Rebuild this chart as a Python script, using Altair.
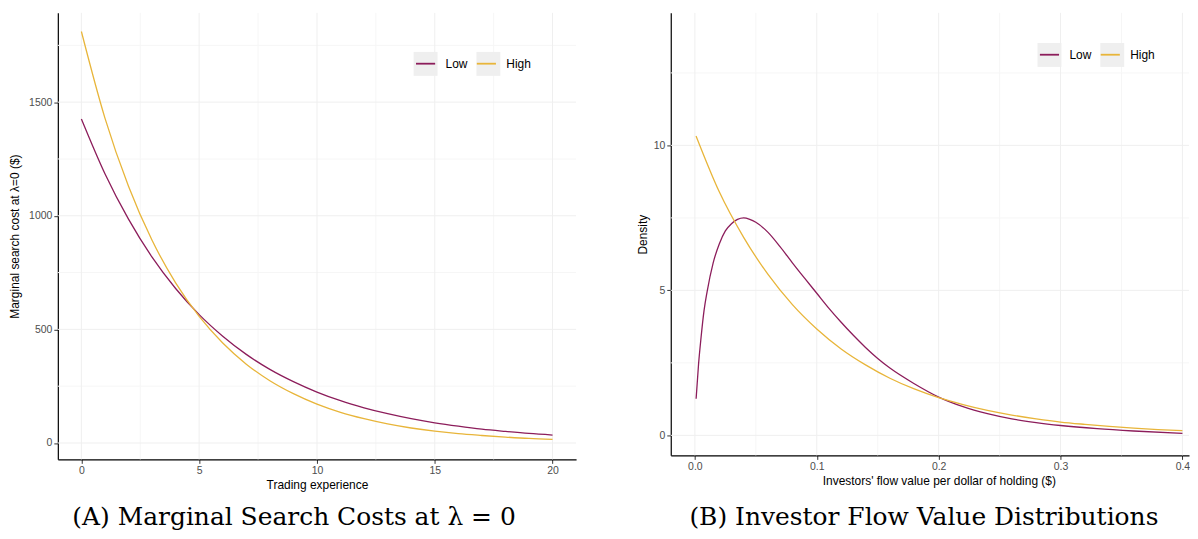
import altair as alt
import pandas as pd

# ---------------- data ----------------
groups = ["Low", "High"]

experience = list(range(21))
cost_low = [1426, 1185, 985, 818, 680, 565, 470, 390, 324, 270, 224,
            186, 155, 129, 107, 89, 74, 61, 51, 42, 35]
cost_high = [1811, 1430, 1130, 892, 705, 557, 440, 347, 274, 217, 171,
             135, 107, 84, 66, 52, 41, 33, 26, 20, 16]

flow_low_x = [0.001, 0.003, 0.005, 0.0075, 0.01, 0.015, 0.02, 0.025, 0.03, 0.035,
              0.04, 0.045, 0.05, 0.06, 0.07, 0.08, 0.09, 0.10, 0.11, 0.12,
              0.13, 0.14, 0.15, 0.16, 0.18, 0.20, 0.22, 0.24, 0.26, 0.28,
              0.30, 0.33, 0.36, 0.40]
density_low = [1.26, 2.45, 3.35, 4.30, 4.95, 5.95, 6.60, 7.05, 7.30, 7.45,
               7.50, 7.45, 7.35, 7.00, 6.50, 5.95, 5.42, 4.90, 4.38, 3.90,
               3.45, 3.03, 2.65, 2.32, 1.78, 1.32, 0.99, 0.75, 0.57, 0.44,
               0.34, 0.23, 0.15, 0.07]

flow_high_x = [0.001, 0.02, 0.04, 0.06, 0.08, 0.10, 0.12, 0.14, 0.16, 0.18,
               0.20, 0.22, 0.24, 0.26, 0.28, 0.30, 0.32, 0.34, 0.36, 0.38, 0.40]
density_high = [10.32, 8.40, 6.83, 5.55, 4.51, 3.67, 2.98, 2.43, 1.97, 1.60,
                1.30, 1.06, 0.86, 0.70, 0.57, 0.46, 0.38, 0.31, 0.25, 0.20, 0.16]

left_x_major = [0, 5, 10, 15, 20]
left_x_minor = [2.5, 7.5, 12.5, 17.5]
left_y_major = [0, 500, 1000, 1500]
left_y_minor = [250, 750, 1250, 1750]

right_x_major = [0.0, 0.1, 0.2, 0.3, 0.4]
right_x_minor = [0.05, 0.15, 0.25, 0.35]
right_y_major = [0, 5, 10]
right_y_minor = [2.5, 7.5, 12.5]

PURPLE = "#8C1D5B"
GOLD = "#E8B53A"
SANS = "Liberation Sans"
SERIF = "DejaVu Serif"

df_cost = pd.DataFrame({
    "x": experience * 2,
    "y": cost_low + cost_high,
    "group": ["Low"] * len(cost_low) + ["High"] * len(cost_high),
})
df_flow = pd.DataFrame({
    "x": flow_low_x + flow_high_x,
    "y": density_low + density_high,
    "group": ["Low"] * len(flow_low_x) + ["High"] * len(flow_high_x),
})


def panel(df, xdomain, ydomain, xticks, yticks, xminor, yminor, xfmt, yfmt,
          width, height, xtitle, ytitle, ytitle_pad, xtitle_x, lx, ly,
          caption, cap_dx, cap_offset):
    xscale = alt.Scale(domain=xdomain, nice=False, zero=False)
    yscale = alt.Scale(domain=ydomain, nice=False, zero=False)
    common = dict(grid=False, domainColor="black", domainWidth=1.2,
                  tickColor="#333333", tickSize=4, tickWidth=1,
                  labelColor="#4D4D4D", labelFontSize=10.5, labelFont=SANS,
                  titleFont=SANS, titleFontSize=12, titleFontWeight="normal",
                  titleColor="black", labelFlush=False)
    xextra = {} if xtitle_x is None else {"titleX": xtitle_x}
    xaxis = alt.Axis(values=xticks, title=xtitle, format=xfmt, labelPadding=2,
                     titlePadding=4, **xextra, **common)
    yaxis = alt.Axis(values=yticks, title=ytitle, format=yfmt, labelPadding=2,
                     titlePadding=ytitle_pad, **common)

    def X(f):
        return alt.X(f, scale=xscale, axis=xaxis)

    def Y(f):
        return alt.Y(f, scale=yscale, axis=yaxis)

    vmaj = alt.Chart(pd.DataFrame({"v": xticks})).mark_rule(
        color="#EFEFEF", strokeWidth=1).encode(x=X("v:Q"))
    vmin = alt.Chart(pd.DataFrame({"v": xminor})).mark_rule(
        color="#F6F6F6", strokeWidth=1).encode(x=X("v:Q"))
    hmaj = alt.Chart(pd.DataFrame({"h": yticks})).mark_rule(
        color="#EFEFEF", strokeWidth=1).encode(y=Y("h:Q"))
    hmin = alt.Chart(pd.DataFrame({"h": yminor})).mark_rule(
        color="#F6F6F6", strokeWidth=1).encode(y=Y("h:Q"))

    leg_common = dict(orient="none", legendX=lx, legendY=ly,
                      direction="horizontal", title=None, symbolSize=576,
                      symbolStrokeWidth=1.8, labelFont=SANS, labelFontSize=12,
                      labelOffset=7, columnPadding=4, padding=0)

    keys = alt.Chart(df).mark_square(size=0, filled=True).encode(
        x=X("x:Q"), y=Y("y:Q"),
        color=alt.Color("group:N",
                        scale=alt.Scale(domain=groups, range=["#EFEFEF", "#EFEFEF"]),
                        legend=alt.Legend(symbolType="square", symbolOpacity=1,
                                          symbolStrokeColor="transparent",
                                          labelColor="transparent", **leg_common)),
    )

    lines = alt.Chart(df).mark_line(strokeWidth=1.3, interpolate="monotone",
                                    clip=True).encode(
        x=X("x:Q"), y=Y("y:Q"),
        color=alt.Color("group:N",
                        scale=alt.Scale(domain=groups, range=[PURPLE, GOLD]),
                        legend=alt.Legend(symbolType="M-0.8,0L0.8,0",
                                          labelColor="black", **leg_common)),
    )

    return alt.layer(vmin, hmin, vmaj, hmaj, keys, lines).resolve_scale(
        color="independent").properties(
        width=width, height=height,
        title=alt.TitleParams(text=caption, orient="bottom", font=SERIF,
                              fontSize=25, fontWeight="normal", color="black",
                              anchor="middle", frame="group", dx=cap_dx,
                              offset=cap_offset),
    )


left = panel(df_cost, [-1, 21], [-72, 1893], left_x_major, left_y_major,
             left_x_minor, left_y_minor, "d", "d", 520, 448,
             "Trading experience", "Marginal search cost at λ=0 ($)", 7, None,
             356, 38, "(A) Marginal Search Costs at λ = 0", -23, 14)

right = panel(df_flow, [-0.0198, 0.4054], [-0.69, 14.57], right_x_major,
              right_y_major, right_x_minor, right_y_minor, ".1f", "d", 520, 444,
              "Investors' flow value per dollar of holding ($)", "Density", 4, 269,
              367, 29, "(B) Investor Flow Value Distributions", -6, 18)

chart = alt.hconcat(left, right, spacing=59).resolve_scale(
    color="independent").configure_view(stroke=None).properties(
    padding={"left": 0, "top": 3, "right": 0, "bottom": 0},
    background="white")

chart.save("out.html", embed_options={"renderer": "svg", "actions": False})
